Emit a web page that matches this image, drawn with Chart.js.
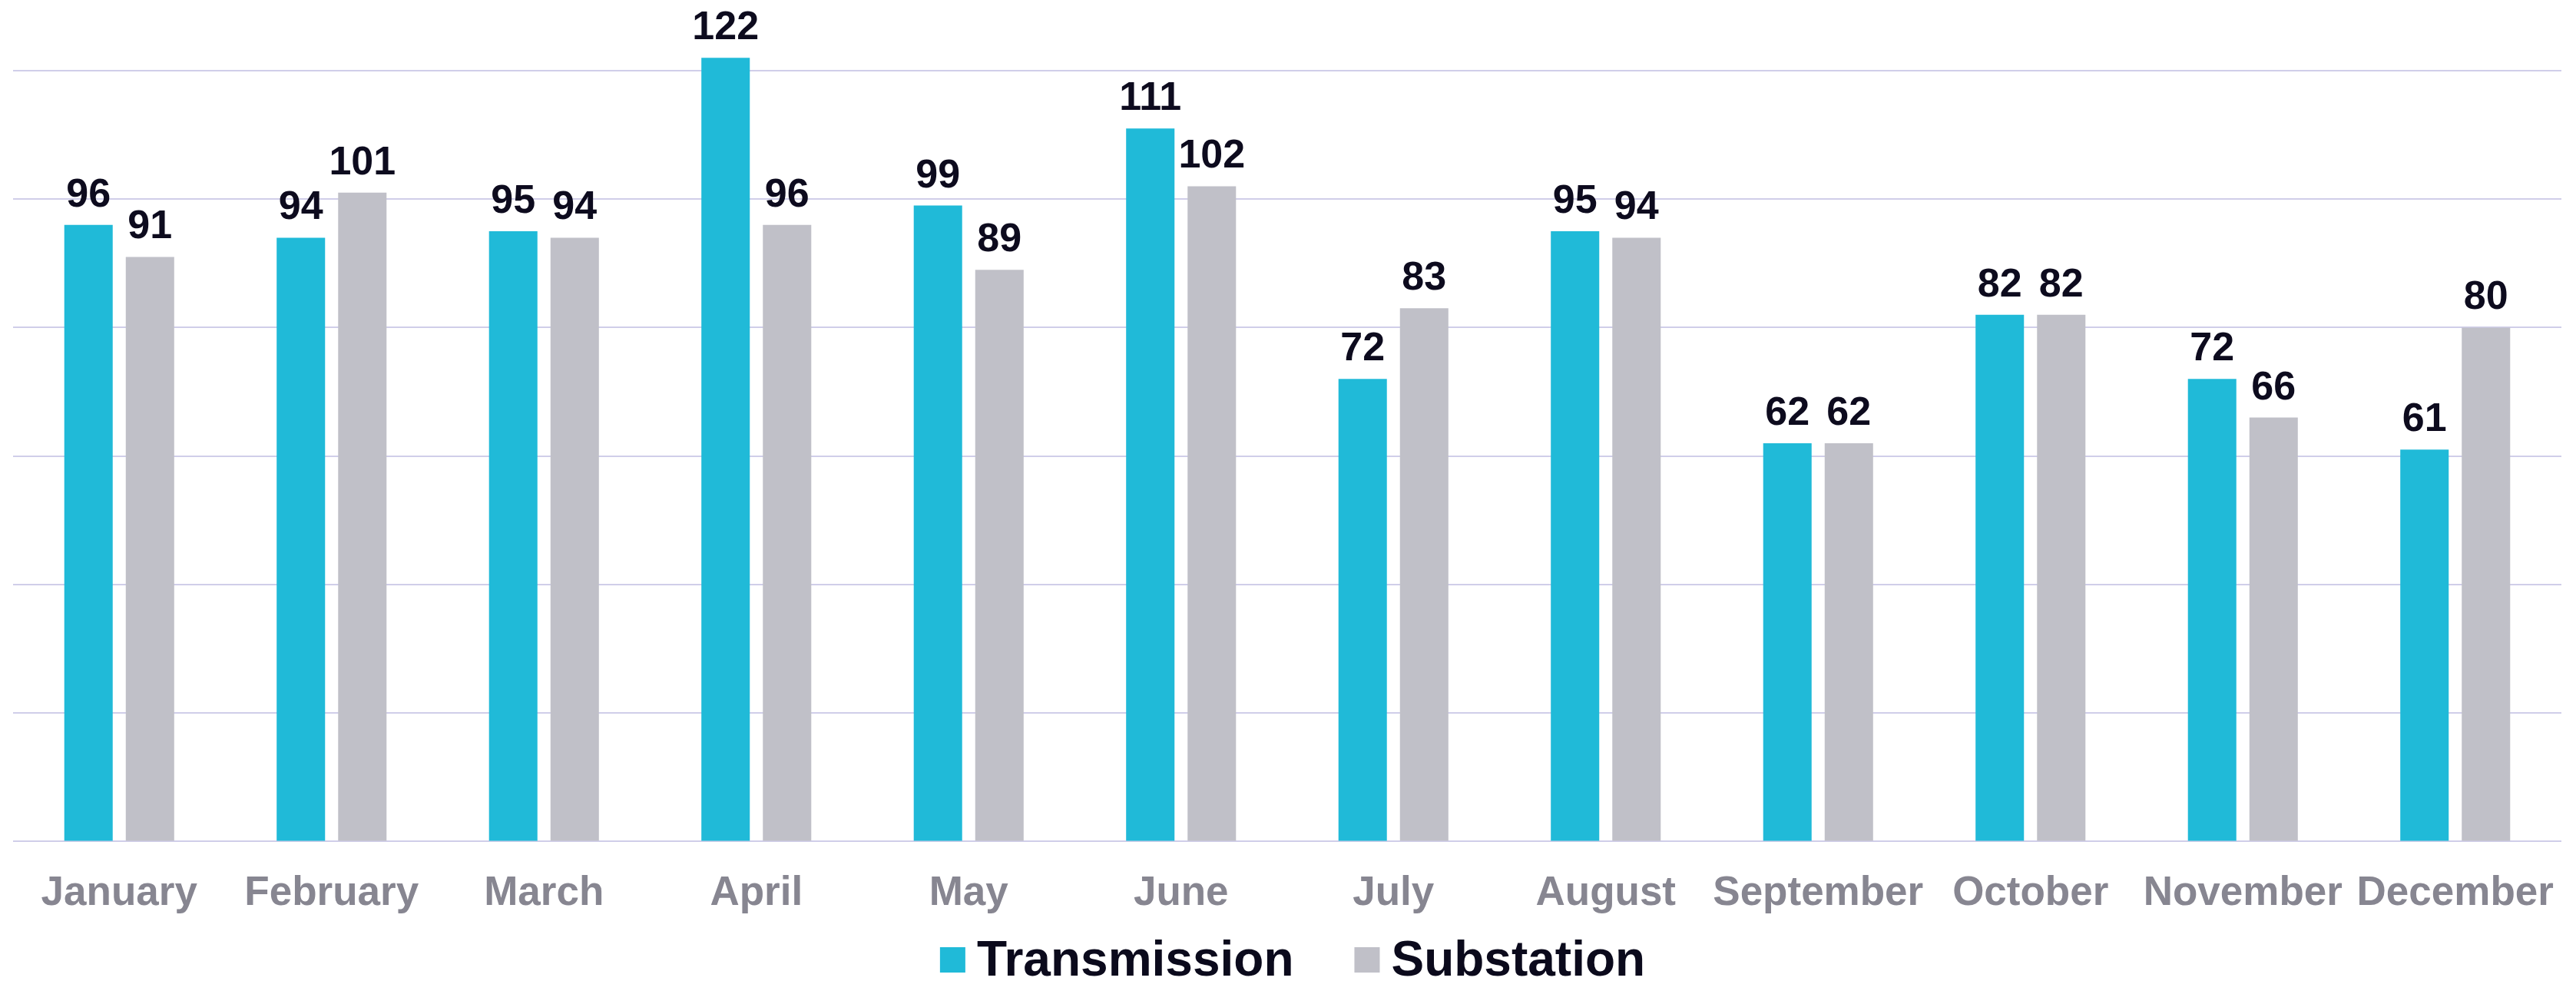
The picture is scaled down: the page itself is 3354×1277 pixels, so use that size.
<!DOCTYPE html>
<html>
<head>
<meta charset="utf-8">
<script src="https://cdn.jsdelivr.net/npm/chart.js@4/dist/chart.umd.min.js"></script>
<style>
    html, body { margin: 0; padding: 0; background: #ffffff; }
    #wrap { width: 3354px; height: 1277px; position: relative; }
</style>
</head>
<body>
<div id="wrap"><canvas id="barChart"></canvas></div>
<script>
    // Monthly counts per series
    const months = ['January', 'February', 'March', 'April', 'May', 'June',
        'July', 'August', 'September', 'October', 'November', 'December'];
    const transmission = [96, 94, 95, 122, 99, 111, 72, 95, 62, 82, 72, 61];
    const substation = [91, 101, 94, 96, 89, 102, 83, 94, 62, 82, 66, 80];
    const gridTicks = [0, 20, 40, 60, 80, 100, 120];

    const FONT = "'Liberation Sans', Arial, sans-serif";

    // Value labels above each bar
    const barValues = {
        id: 'barValues',
        afterDatasetsDraw(chart) {
            const ctx = chart.ctx;
            ctx.save();
            ctx.font = `bold 52px ${FONT}`;
            ctx.fillStyle = '#0d0b1e';
            ctx.textAlign = 'center';
            ctx.textBaseline = 'alphabetic';
            chart.data.datasets.forEach((ds, i) => {
                chart.getDatasetMeta(i).data.forEach((bar, j) => {
                    ctx.fillText(ds.data[j], bar.x, bar.y - 24);
                });
            });
            ctx.restore();
        }
    };

    // Legend drawn under the axis labels (square, short gap, bold name)
    const bottomLegend = {
        id: 'bottomLegend',
        afterDraw(chart) {
            const ctx = chart.ctx;
            const box = 33, gapText = 15, gapItem = 79;
            const baseline = 1270;
            ctx.save();
            ctx.font = `bold 64px ${FONT}`;
            ctx.textBaseline = 'alphabetic';
            ctx.textAlign = 'left';
            const items = chart.data.datasets.map(ds => ({
                label: ds.label, color: ds.backgroundColor, w: ctx.measureText(ds.label).width
            }));
            const total = items.reduce((s, it) => s + box + gapText + it.w, 0) + gapItem * (items.length - 1);
            let x = chart.width / 2 + 6 - total / 2;
            items.forEach(it => {
                ctx.fillStyle = it.color;
                ctx.fillRect(x, baseline - 37, box, box);
                x += box + gapText;
                ctx.fillStyle = '#0b0a1c';
                ctx.fillText(it.label, x, baseline);
                x += it.w + gapItem;
            });
            ctx.restore();
        }
    };

    new Chart(document.getElementById('barChart'), {
        type: 'bar',
        data: {
            labels: months,
            datasets: [
                { label: 'Transmission', data: transmission, backgroundColor: '#20bad8' },
                { label: 'Substation', data: substation, backgroundColor: '#c0c0c8' }
            ]
        },
        options: {
            responsive: true,
            maintainAspectRatio: false,
            animation: false,
            devicePixelRatio: 1,
            layout: { padding: { left: 17, right: 19, top: 0, bottom: 46 } },
            datasets: {
                bar: { categoryPercentage: 0.579, barPercentage: 0.7875 }
            },
            plugins: {
                tooltip: { enabled: false },
                legend: { display: false }
            },
            scales: {
                x: {
                    grid: { display: false, drawTicks: false },
                    border: { display: false },
                    ticks: {
                        color: '#878691',
                        padding: 36,
                        autoSkip: false,
                        maxRotation: 0,
                        font: { family: FONT, size: 53, weight: 'bold' }
                    },
                    // labels fit inside their category; no extra side padding
                    afterFit: (scale) => {
                        scale.paddingLeft = 0;
                        scale.paddingRight = 0;
                    }
                },
                y: {
                    min: 0,
                    max: 131,
                    border: { display: false },
                    grid: { color: '#d0cee9', lineWidth: 2, drawTicks: false },
                    ticks: { display: false },
                    afterBuildTicks: (scale) => {
                        scale.ticks = gridTicks.map(v => ({ value: v }));
                    }
                }
            }
        },
        plugins: [barValues, bottomLegend]
    });
</script>
</body>
</html>
